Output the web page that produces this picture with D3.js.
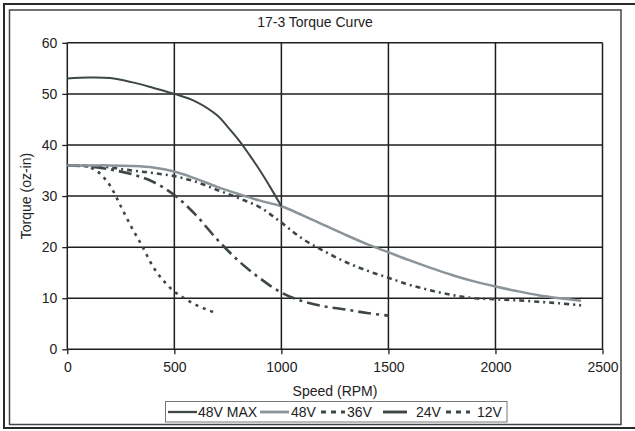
<!DOCTYPE html>
<html>
<head>
<meta charset="utf-8">
<script src="https://cdn.jsdelivr.net/npm/d3@7"></script>
<style>
  html, body { margin: 0; padding: 0; background: #fff; }
  svg { display: block; }
  text { font-family: "Liberation Sans", Arial, sans-serif; fill: #222; }
</style>
</head>
<body>
<svg id="chart" width="635" height="431"></svg>
<script>
const title = "17-3 Torque Curve";
const xTitle = "Speed (RPM)";
const yTitle = "Torque (oz-in)";
const xTicks = [0, 500, 1000, 1500, 2000, 2500];
const yTicks = [0, 10, 20, 30, 40, 50, 60];

const seriesNames = ["48V MAX", "48V", "36V", "24V", "12V"];

const rpm48max = [0, 100, 200, 300, 400, 500, 600, 700, 750, 800, 850, 900, 950, 1000];
const tq48max  = [53, 53.2, 53.1, 52.3, 51.2, 50, 48.5, 45.8, 43.5, 41.0, 38.1, 35.0, 31.6, 28];

const rpm48 = [0, 100, 200, 300, 400, 500, 600, 700, 800, 900, 1000, 1100, 1200, 1300, 1400, 1500, 1600, 1700, 1800, 1900, 2000, 2100, 2200, 2300, 2400];
const tq48  = [36, 36, 36, 35.9, 35.6, 34.8, 33.4, 31.8, 30.4, 29.1, 28.0, 26.2, 24.3, 22.4, 20.6, 19.0, 17.4, 15.9, 14.5, 13.3, 12.3, 11.4, 10.6, 10.0, 9.5];

const rpm36 = [0, 100, 200, 300, 400, 500, 600, 700, 800, 900, 1000, 1100, 1200, 1300, 1400, 1500, 1600, 1700, 1800, 1900, 2000, 2100, 2200, 2300, 2400];
const tq36  = [36, 35.9, 35.6, 35.0, 34.5, 33.9, 32.8, 31.2, 29.6, 27.8, 24.8, 21.6, 19.2, 17.1, 15.4, 14.0, 12.6, 11.5, 10.6, 10.0, 9.8, 9.6, 9.3, 9.0, 8.6];

const rpm24 = [0, 100, 200, 300, 400, 500, 600, 700, 800, 900, 1000, 1100, 1200, 1300, 1400, 1500];
const tq24  = [36, 35.8, 35.2, 34.3, 32.8, 30.2, 26.3, 21.5, 17.3, 13.9, 11.1, 9.4, 8.4, 7.8, 7.1, 6.6];

const rpm12 = [0, 50, 100, 150, 200, 250, 300, 350, 400, 450, 500, 550, 600, 650, 700];
const tq12  = [36, 36, 35.7, 34.5, 32.0, 28.0, 23.9, 20.2, 16.2, 13.4, 11.3, 9.9, 8.7, 7.8, 7.0];

const svg = d3.select("#chart");

// frames
svg.append("rect").attr("x", 4).attr("y", 4).attr("width", 660).attr("height", 424)
  .attr("fill", "none").attr("stroke", "#2a2a2a").attr("stroke-width", 2);
svg.append("rect").attr("x", 9.5).attr("y", 10).attr("width", 611.5).attr("height", 414.5)
  .attr("fill", "none").attr("stroke", "#444").attr("stroke-width", 1.5);

const x = d3.scaleLinear().domain([0, 2500]).range([67.3, 602.5]);
const y = d3.scaleLinear().domain([0, 60]).range([349.3, 42.8]);

// grid
const g = svg.append("g");
g.selectAll(".hg").data(yTicks).enter().append("line")
  .attr("x1", x(0)).attr("x2", x(2500))
  .attr("y1", d => y(d)).attr("y2", d => y(d))
  .attr("stroke", "#1e1e1e").attr("stroke-width", 1.5);
g.selectAll(".vg").data(xTicks).enter().append("line")
  .attr("y1", y(0)).attr("y2", y(60))
  .attr("x1", d => x(d)).attr("x2", d => x(d))
  .attr("stroke", "#1e1e1e").attr("stroke-width", 1.5);

// axes
const fmt = d3.format("d");
const xAxis = d3.axisBottom(x).tickValues(xTicks).tickFormat(fmt).tickSize(5).tickSizeOuter(0).tickPadding(8);
const yAxis = d3.axisLeft(y).tickValues(yTicks).tickFormat(fmt).tickSize(5).tickSizeOuter(0).tickPadding(5);
const gx = svg.append("g").attr("transform", `translate(0,${y(0)})`).call(xAxis);
const gy = svg.append("g").attr("transform", `translate(${x(0)},0)`).call(yAxis);
[gx, gy].forEach(a => {
  a.select(".domain").remove();
  a.selectAll(".tick line").attr("stroke", "#1e1e1e").attr("stroke-width", 1.3);
  a.selectAll(".tick text").attr("font-size", 14).attr("fill", "#222")
    .style("font-family", "'Liberation Sans', Arial, sans-serif");
});

// titles
svg.append("text").attr("x", 315).attr("y", 27).attr("text-anchor", "middle")
  .attr("font-size", 14).text(title);
svg.append("text").attr("x", 335).attr("y", 396).attr("text-anchor", "middle")
  .attr("font-size", 14).text(xTitle);
svg.append("text").attr("transform", `translate(31,196) rotate(-90)`).attr("text-anchor", "middle")
  .attr("font-size", 14).text(yTitle);

// series
const series = [
  { name: seriesNames[0], xs: rpm48max, ys: tq48max, color: "#3e4748", width: 2, dash: null },
  { name: seriesNames[1], xs: rpm48, ys: tq48, color: "#8b9498", width: 2.5, dash: null },
  { name: seriesNames[2], xs: rpm36, ys: tq36, color: "#3e4748", width: 2.6, dash: "5,4,2,4" },
  { name: seriesNames[3], xs: rpm24, ys: tq24, color: "#3e4748", width: 2.6, dash: "13,5,3,5" },
  { name: seriesNames[4], xs: rpm12, ys: tq12, color: "#3e4748", width: 2.6, dash: "3,5" }
];

const line = d3.line().x(d => x(d[0])).y(d => y(d[1])).curve(d3.curveCatmullRom.alpha(0.5));
const drawOrder = [4, 3, 2, 1, 0];
drawOrder.forEach(i => {
  const s = series[i];
  svg.append("path")
    .datum(s.xs.map((v, k) => [v, s.ys[k]]))
    .attr("d", line)
    .attr("fill", "none")
    .attr("stroke", s.color)
    .attr("stroke-width", s.width)
    .attr("stroke-dasharray", s.dash);
});

// legend
const lg = svg.append("g");
lg.append("rect").attr("x", 165.5).attr("y", 401.5).attr("width", 341.5).attr("height", 20.5)
  .attr("fill", "#fff").attr("stroke", "#777").attr("stroke-width", 1);
const legendPos = [
  { lx: 168, tx: 198 },
  { lx: 260, tx: 291 },
  { lx: 321, tx: 347 },
  { lx: 383, tx: 416 },
  { lx: 446, tx: 477 }
];
series.forEach((s, i) => {
  const p = legendPos[i];
  lg.append("line").attr("x1", p.lx).attr("x2", p.lx + (i === 2 || i === 4 ? 24 : 29))
    .attr("y1", 412).attr("y2", 412)
    .attr("stroke", s.color).attr("stroke-width", s.width + 0.3)
    .attr("stroke-dasharray", i === 2 || i === 4 ? "5,5" : (i === 3 ? "24,10" : null));
  lg.append("text").attr("x", p.tx).attr("y", 417).attr("font-size", 14).text(s.name);
});
</script>
</body>
</html>
